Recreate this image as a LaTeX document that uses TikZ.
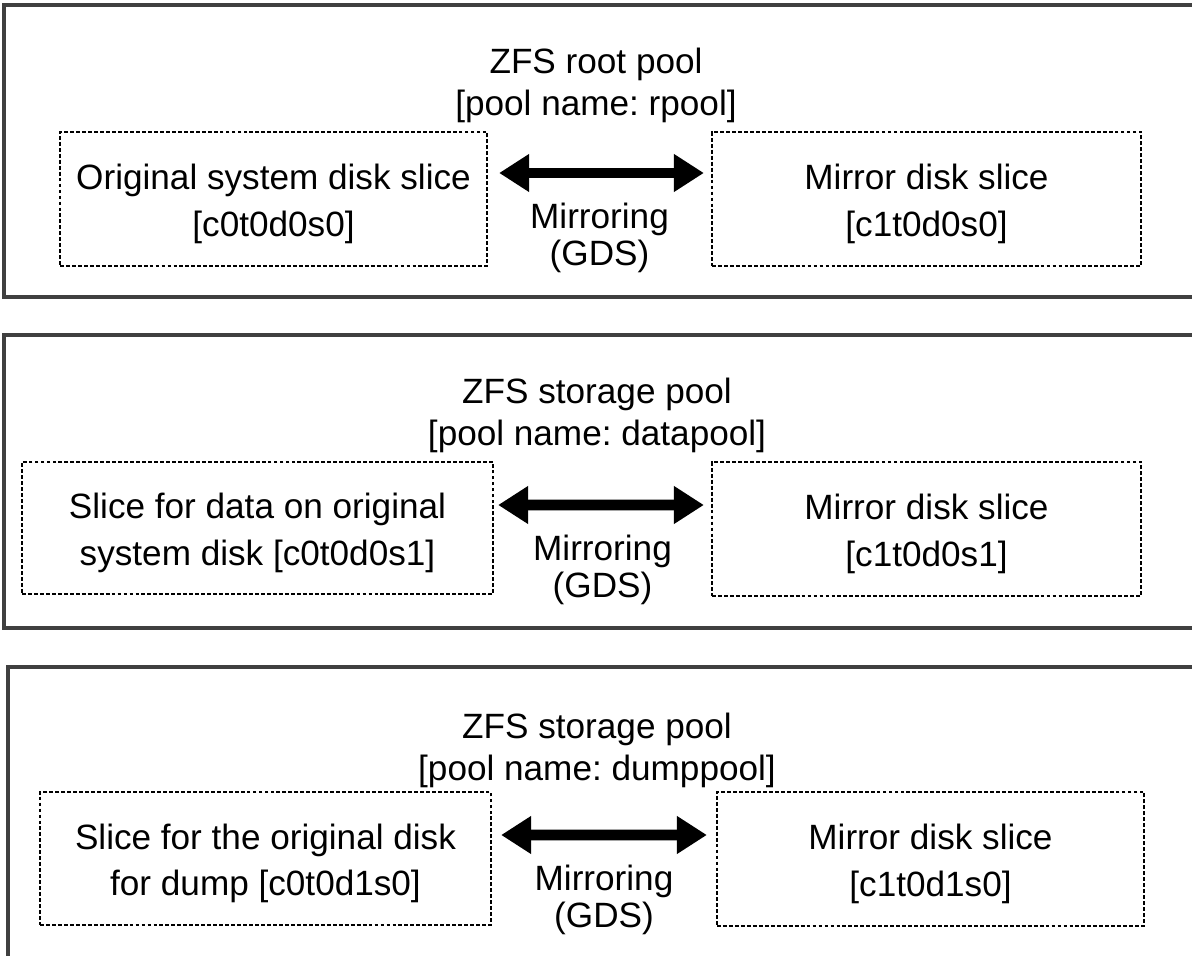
\documentclass[tikz,border=0pt]{standalone}
\usepackage{fontspec}
\setmainfont{Liberation Sans}
\frenchspacing
\usetikzlibrary{arrows.meta,positioning}

\begin{document}
\begin{tikzpicture}[
  poolbox/.style={draw=black!75,line width=0.9pt},
  slicebox/.style={draw,line width=0.65pt,dash pattern=on 1.1pt off 0.6pt,
    align=center,inner sep=0pt,text height=23.2pt,
    font=\fontsize{10}{13.2}\selectfont},
  pooltitle/.style={align=center,font=\fontsize{10}{12}\selectfont},
  mirlabel/.style={align=center,below=1.3mm,font=\fontsize{10}{10.5}\selectfont},
  mirror/.style={line width=3.1pt,
    {Triangle[length=3mm,width=3.6mm]}-{Triangle[length=3mm,width=3.6mm]}},
]
\useasboundingbox (0,0) rectangle (11.92,-9.56);
\clip (0,0) rectangle (11.92,-9.56);

% the root pool
\draw[poolbox] (0.04,-0.05) rectangle (12.2,-2.97);
\node[pooltitle] (title1) at (5.96,-0.855) {ZFS root pool\\{[pool name: rpool]}};
\node[slicebox,minimum width=4.27cm,minimum height=1.34cm] (src1) at (2.735,-1.99)
  {Original system disk slice\\{[c0t0d0s0]}};
\node[slicebox,minimum width=4.29cm,minimum height=1.34cm] (mir1) at (9.265,-1.99)
  {Mirror disk slice\\{[c1t0d0s0]}};
\draw[mirror,shorten <=1.1mm,shorten >=0.7mm] ([yshift=2.6mm]src1.east)
  -- node[mirlabel] (gds1) {Mirroring\\(GDS)} ([yshift=2.6mm]mir1.west);

% the data pool
\draw[poolbox] (0.04,-3.35) rectangle (12.2,-6.28);
\node[pooltitle] (title2) at (5.97,-4.155) {ZFS storage pool\\{[pool name: datapool]}};
\node[slicebox,minimum width=4.71cm,minimum height=1.32cm] (src2) at (2.575,-5.28)
  {Slice for data on original\\system disk [c0t0d0s1]};
\node[slicebox,minimum width=4.29cm,minimum height=1.34cm] (mir2) at (9.265,-5.29)
  {Mirror disk slice\\{[c1t0d0s1]}};
\draw[mirror,shorten <=0.4mm,shorten >=0.7mm] ([yshift=2.3mm]src2.east)
  -- node[mirlabel] (gds2) {Mirroring\\(GDS)} ([yshift=2.4mm]mir2.west);

% the dump pool
\draw[poolbox] (0.08,-6.67) rectangle (12.2,-9.59);
\node[pooltitle] (title3) at (5.97,-7.5) {ZFS storage pool\\{[pool name: dumppool]}};
\node[slicebox,minimum width=4.51cm,minimum height=1.33cm] (src3) at (2.655,-8.585)
  {Slice for the original disk\\for dump [c0t0d1s0]};
\node[slicebox,minimum width=4.27cm,minimum height=1.34cm] (mir3) at (9.305,-8.59)
  {Mirror disk slice\\{[c1t0d1s0]}};
\draw[mirror,shorten <=0.9mm,shorten >=0.9mm] ([yshift=2.35mm]src3.east)
  -- node[mirlabel] (gds3) {Mirroring\\(GDS)} ([yshift=2.4mm]mir3.west);
\end{tikzpicture}
\end{document}
